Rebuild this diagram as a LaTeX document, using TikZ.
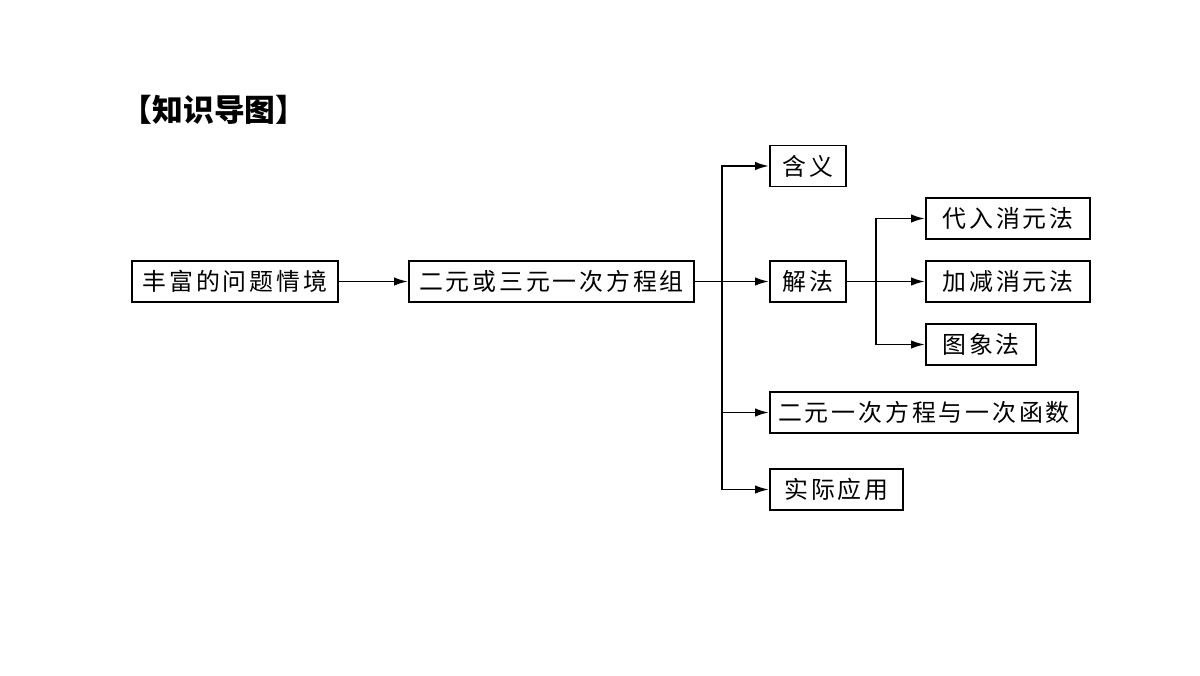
\documentclass[tikz,border=0pt]{standalone}
\usepackage{fontspec}
\usepackage{tikz}
\usetikzlibrary{arrows.meta,positioning}
\newfontfamily\cjk[LetterSpace=12]{Noto Sans CJK SC}
\newfontfamily\cjktitle{Noto Sans CJK SC}
\tikzset{
  kmbox/.style={
    draw=black,
    line width=1.1pt,
    minimum height=8.2mm,
    inner sep=0pt,
    anchor=west,
    font=\cjk\fontsize{13.6pt}{15pt}\selectfont
  },
  kmflow/.style={-{Latex[length=2.8mm,width=1.7mm]}, line width=1.05pt, draw=black}
}
\begin{document}
\begin{tikzpicture}
  \useasboundingbox (0,0) rectangle (24,13.5);
  \node[font=\cjktitle\bfseries\fontsize{17.5pt}{19pt}\selectfont] (title) at (4.28,11.3) {【知识导图】};
  \node[kmbox, minimum width=41.2mm] (scene) at (2.62,7.87) {丰富的问题情境};
  \node[kmbox, minimum width=57mm] (system) at (8.16,7.87) {二元或三元一次方程组};
  \node[kmbox, minimum width=15.2mm] (meaning) at (15.38,10.18) {含义};
  \node[kmbox, minimum width=15.2mm] (solve) at (15.38,7.87) {解法};
  \node[kmbox, minimum width=61.6mm] (func) at (15.38,5.25) {二元一次方程与一次函数};
  \node[kmbox, minimum width=26.6mm] (apply) at (15.38,3.71) {实际应用};
  \node[kmbox, minimum width=32.8mm] (subst) at (18.5,9.13) {代入消元法};
  \node[kmbox, minimum width=32.8mm] (elim) at (18.5,7.87) {加减消元法};
  \node[kmbox, minimum width=22mm] (graph) at (18.5,6.61) {图象法};
  \coordinate (fork) at (14.44,7.87);
  \coordinate (subfork) at (17.52,7.87);
  \draw[kmflow] (scene) -- (system);
  \draw[kmflow] (system) -- (solve);
  \draw[kmflow] (fork) |- (meaning);
  \draw[kmflow] (fork) |- (func);
  \draw[kmflow] (fork) |- (apply);
  \draw[kmflow] (solve) -- (elim);
  \draw[kmflow] (subfork) |- (subst);
  \draw[kmflow] (subfork) |- (graph);
\end{tikzpicture}
\end{document}
